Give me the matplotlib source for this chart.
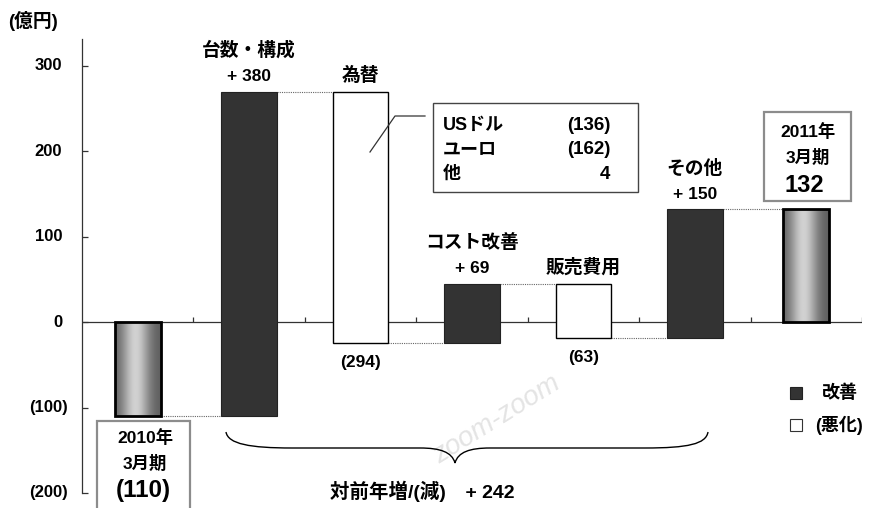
import numpy as np
import matplotlib
matplotlib.use("Agg")
import matplotlib.pyplot as plt
from matplotlib.patches import Rectangle, PathPatch
from matplotlib.path import Path
import matplotlib.transforms as mtransforms

plt.rcParams['font.family'] = ['Liberation Sans', 'Noto Sans CJK JP', 'DejaVu Sans']
plt.rcParams['font.weight'] = 'bold'

# ---- data ----
categories = ['2010年3月期', '台数・構成', '為替', 'コスト改善', '販売費用', 'その他', '2011年3月期']
changes = [-110, 380, -294, 69, -63, 150, 132]
bar_kind = ['total', 'up', 'down', 'up', 'down', 'up', 'total']
value_labels = ['(110)', '+ 380', '(294)', '+ 69', '(63)', '+ 150', '132']
yticks = [300, 200, 100, 0, -100, -200]
ytick_labels = ['300', '200', '100', '0', '(100)', '(200)']
fx_names = ['USドル', 'ユーロ', '他']
fx_values = ['(136)', '(162)', '4']
total_text = '対前年増/(減)　+ 242'
legend_labels = ['改善', '(悪化)']
unit_label = '(億円)'

W, H = 873, 508
fig = plt.figure(figsize=(W / 100, H / 100), dpi=100)
fig.patch.set_facecolor('white')

def fxp(px):
    return px / W

def fyp(py):
    return 1 - py / H

ax_left, ax_width = 82, 780
ax = fig.add_axes([fxp(ax_left), fyp(493), ax_width / W, 454 / H])
ax.set_facecolor('none')
ax.set_zorder(1)

# faint watermark (behind the axes)
fig.text(fxp(497), fyp(420), 'zoom-zoom', fontsize=20, style='italic', color='#e4e4e4',
         rotation=32, ha='center', va='center', zorder=0, fontweight='normal')

# compute bottoms / tops
bottoms, tops = [], []
level = 0
for ch, kind in zip(changes, bar_kind):
    if kind == 'total':
        b, t = min(0, ch), max(0, ch)
        level = ch
    else:
        new = level + ch
        b, t = min(level, new), max(level, new)
        level = new
    bottoms.append(b)
    tops.append(t)

x = np.arange(len(categories))
wide, narrow = 0.5, 0.41

# axis line at zero and category boundary ticks
ax.plot([-0.5, 6.5], [0, 0], color='#333333', lw=0.9, zorder=1)
ax.vlines(np.arange(0.5, 7, 1.0), 0, 6, color='#333333', lw=0.9, zorder=1)

grad_t = np.linspace(0, 1, 200)
grad = 0.36 + 0.46 * np.exp(-((grad_t - 0.45) / 0.3) ** 2)

for i, kind in enumerate(bar_kind):
    b, t = bottoms[i], tops[i]
    if kind == 'total':
        x0, x1 = x[i] - narrow / 2, x[i] + narrow / 2
        ax.imshow(grad[np.newaxis, :], cmap='gray', vmin=0, vmax=1, aspect='auto',
                  extent=(x0, x1, b, t), zorder=3, interpolation='bilinear')
        ax.add_patch(Rectangle((x0, b), narrow, t - b, fill=False, edgecolor='black',
                               lw=2.0, zorder=4))
    elif kind == 'up':
        ax.bar(x[i], t - b, bottom=b, width=wide, color='#333333', edgecolor='#222222',
               lw=0.8, zorder=3)
    else:
        ax.bar(x[i], t - b, bottom=b, width=wide, color='white', edgecolor='black',
               lw=1.0, zorder=3)

# dotted connectors
level = 0
for i in range(len(categories) - 1):
    if bar_kind[i] == 'total':
        level = changes[i]
    else:
        level = level + changes[i]
    xr = x[i] + (narrow / 2 if bar_kind[i] == 'total' else wide / 2)
    xl = x[i + 1] - (narrow / 2 if bar_kind[i + 1] == 'total' else wide / 2)
    ax.plot([xr, xl], [level, level], color='#666666', lw=0.8, ls=(0, (1, 1)), zorder=2)

ax.set_xlim(-0.5, 6.5)
ax.set_ylim(-200, 331.6)

# axes styling
for s in ['top', 'right', 'bottom']:
    ax.spines[s].set_visible(False)
ax.spines['left'].set_color('#333333')
ax.spines['left'].set_linewidth(0.9)
ax.set_xticks([])
ax.set_yticks(yticks)
ax.set_yticklabels([''] * len(yticks))
ax.tick_params(axis='y', direction='in', length=4.5, width=0.9, colors='#333333')

# tick labels: accounting style (closing parenthesis hangs past the digits)
blend = mtransforms.blended_transform_factory(ax.transAxes, ax.transData)
for v, lab in zip(yticks, ytick_labels):
    right_px = 68 if lab.endswith(')') else 62
    ax.text((right_px - ax_left) / ax_width, v, lab, transform=blend, ha='right',
            va='center', fontsize=12, fontweight='bold', clip_on=False)

# category and value labels
for i, kind in enumerate(bar_kind):
    if kind == 'up':
        ax.annotate(value_labels[i], (x[i], tops[i]), xytext=(0, 15 * 0.72),
                    textcoords='offset points', ha='center', va='center', fontsize=12.5,
                    fontweight='bold', annotation_clip=False)
        ax.annotate(categories[i], (x[i], tops[i]), xytext=(0, 41 * 0.72),
                    textcoords='offset points', ha='center', va='center', fontsize=13.5,
                    fontweight='bold', annotation_clip=False)
    elif kind == 'down':
        ax.annotate(value_labels[i], (x[i], bottoms[i]), xytext=(0, -20 * 0.72),
                    textcoords='offset points', ha='center', va='center', fontsize=12.5,
                    fontweight='bold', annotation_clip=False)
        ax.annotate(categories[i], (x[i], tops[i]), xytext=(0, 16 * 0.72),
                    textcoords='offset points', ha='center', va='center', fontsize=13.5,
                    fontweight='bold', annotation_clip=False)

# 2011 box
fig.add_artist(Rectangle((fxp(764), fyp(201)), 87 / W, 89 / H, transform=fig.transFigure,
                         facecolor='white', edgecolor='#8c8c8c', lw=1.6, zorder=5))
fig.text(fxp(808), fyp(132), '2011年', ha='center', va='center', fontsize=12.5, zorder=6)
fig.text(fxp(808), fyp(157), '3月期', ha='center', va='center', fontsize=12.5, zorder=6)
fig.text(fxp(804), fyp(185), value_labels[6], ha='center', va='center', fontsize=17, zorder=6)

# 2010 box
fig.add_artist(Rectangle((fxp(97), fyp(512)), 93 / W, 91 / H, transform=fig.transFigure,
                         facecolor='white', edgecolor='#8c8c8c', lw=1.6, zorder=5))
fig.text(fxp(145), fyp(438), '2010年', ha='center', va='center', fontsize=12.5, zorder=6)
fig.text(fxp(145), fyp(463), '3月期', ha='center', va='center', fontsize=12.5, zorder=6)
fig.text(fxp(143), fyp(491), value_labels[0], ha='center', va='center', fontsize=17.5, zorder=6)

# FX breakdown box
fig.add_artist(Rectangle((fxp(433), fyp(192)), 205 / W, 89 / H, transform=fig.transFigure,
                         facecolor='white', edgecolor='#444444', lw=1.0, zorder=5))
row_y = [125, 150, 174]
for name, val, ry in zip(fx_names, fx_values, row_y):
    fig.text(fxp(443), fyp(ry), name, ha='left', va='center', fontsize=13, zorder=6)
    fig.text(fxp(610), fyp(ry), val, ha='right', va='center', fontsize=13.5, zorder=6)
fig.add_artist(plt.Line2D([fxp(425), fxp(395), fxp(370)], [fyp(116), fyp(116), fyp(152)],
                          transform=fig.transFigure, color='#333333', lw=0.9, zorder=6))

# brace
def P(px, py):
    return (fxp(px), fyp(py))

verts = [P(226, 432), P(228, 444), P(250, 448), P(292, 448),
         P(420, 448),
         P(440, 448), P(452, 452), P(455, 463),
         P(458, 452), P(470, 448), P(490, 448),
         P(645, 448),
         P(688, 448), P(706, 444), P(708, 432)]
codes = [Path.MOVETO, Path.CURVE4, Path.CURVE4, Path.CURVE4,
         Path.LINETO,
         Path.CURVE4, Path.CURVE4, Path.CURVE4,
         Path.CURVE4, Path.CURVE4, Path.CURVE4,
         Path.LINETO,
         Path.CURVE4, Path.CURVE4, Path.CURVE4]
fig.add_artist(PathPatch(Path(verts, codes), transform=fig.transFigure, fill=False,
                         edgecolor='black', lw=1.0, zorder=6))
fig.text(fxp(422), fyp(491), total_text, ha='center', va='center', fontsize=14, zorder=6)

# unit label
fig.text(fxp(8), fyp(21), unit_label, ha='left', va='center', fontsize=13.5, zorder=6)

# legend
fig.add_artist(Rectangle((fxp(790), fyp(399)), 12 / W, 12 / H, transform=fig.transFigure,
                         facecolor='#333333', edgecolor='#222222', lw=0.8, zorder=6))
fig.text(fxp(822), fyp(393), legend_labels[0], ha='left', va='center', fontsize=13, zorder=6)
fig.add_artist(Rectangle((fxp(790), fyp(431)), 12 / W, 12 / H, transform=fig.transFigure,
                         facecolor='white', edgecolor='#333333', lw=0.8, zorder=6))
fig.text(fxp(815), fyp(425), legend_labels[1], ha='left', va='center', fontsize=13, zorder=6)

fig.savefig('out.png', dpi=100, facecolor='white')
